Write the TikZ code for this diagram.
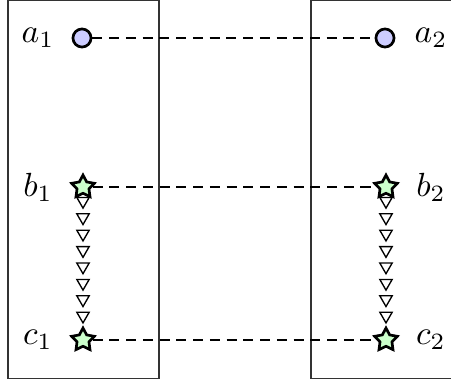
\documentclass[tikz,border=0pt]{standalone}
\usetikzlibrary{shapes.geometric}
\begin{document}
\begin{tikzpicture}[x=0.0105cm,y=-0.0105cm,
    dot/.style={circle,draw,thick,fill=blue!20,inner sep=0pt,minimum size=0.19cm},
    starnode/.style={star,star points=5,star point ratio=1.9,draw,thick,fill=green!20,inner sep=0pt,minimum size=0.25cm},
    tri/.style={regular polygon,regular polygon sides=3,shape border rotate=180,draw,inner sep=0pt,minimum size=0.15cm},
    link/.style={densely dashed}]
    \useasboundingbox (0,0) rectangle (451,379);
    % two frames
    \draw[black!80] (8,0.5) rectangle (159,378.5);
    \draw[black!80] (311,0.5) rectangle (460,378.5);
    % points
    \node[dot] (a1) at (82,38) {};
    \node[dot] (a2) at (385,38) {};
    \node[starnode] (b1) at (83,187) {};
    \node[starnode] (b2) at (386,187) {};
    \node[starnode] (c1) at (83,340) {};
    \node[starnode] (c2) at (386,340) {};
    \node (la1) at (38,38) {$a_1$};
    \node (la2) at (431,38) {$a_2$};
    \node (lb1) at (38,187) {$b_1$};
    \node (lb2) at (431,187) {$b_2$};
    \node (lc1) at (38,340) {$c_1$};
    \node (lc2) at (431,340) {$c_2$};
    \draw[link] (a1) -- (a2);
    \draw[link] (b1) -- (b2);
    \draw[link] (c1) -- (c2);
    % descent
    \foreach \i in {0,...,7} {
        \node[tri] (l\i) at (83,{201+16.4*\i}) {};
        \node[tri] (r\i) at (386,{201+16.4*\i}) {};
    }
\end{tikzpicture}
\end{document}
